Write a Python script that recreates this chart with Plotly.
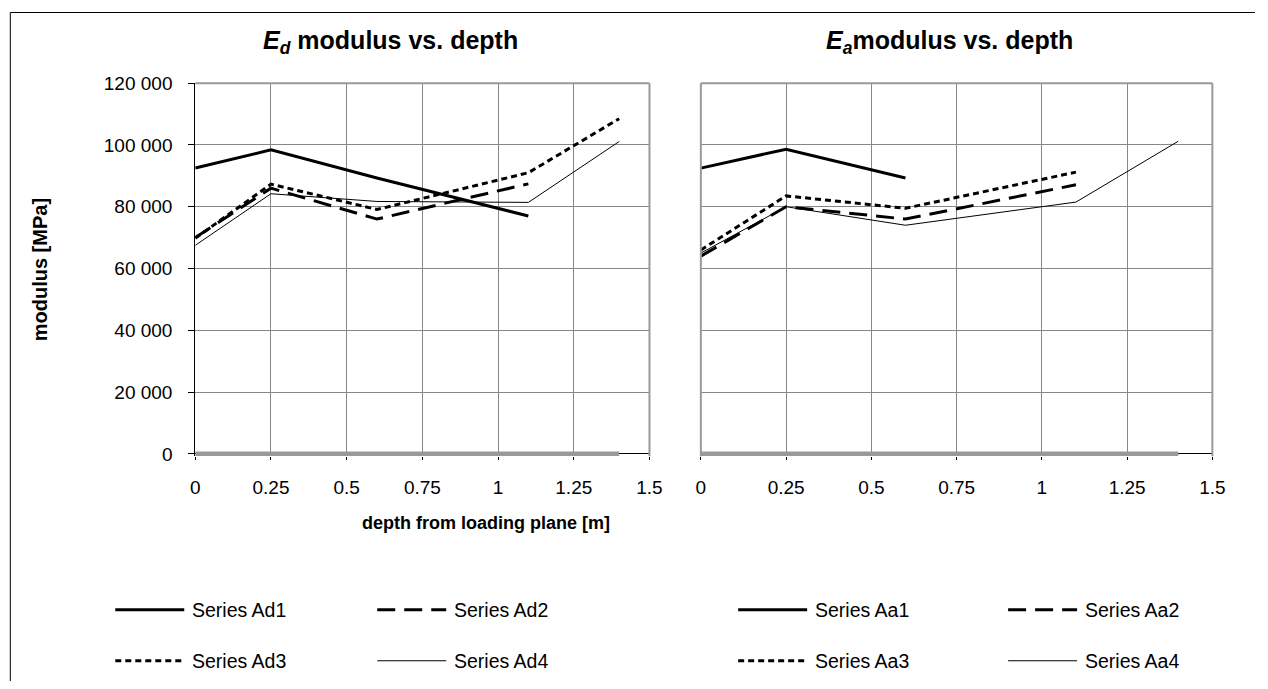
import plotly.graph_objects as go

# ---------------- data ----------------
depth = [0, 0.25, 0.6, 1.1, 1.4]

ad1 = [92500, 98400, 89300, 77000]
ad2 = [70000, 86000, 76000, 87400]
ad3 = [69800, 87300, 79100, 91000, 108500]
ad4 = [67500, 84200, 81700, 81400, 101100]

aa1 = [92500, 98600, 89300]
aa2 = [64000, 80000, 76000, 87100]
aa3 = [66000, 83500, 79500, 91200]
aa4 = [65000, 80000, 74000, 81500, 101200]

zero_x = [0, 1.4]
zero_y = [0, 0]

names_d = ["Series Ad1", "Series Ad2", "Series Ad3", "Series Ad4"]
names_a = ["Series Aa1", "Series Aa2", "Series Aa3", "Series Aa4"]

x_ticks = [0, 0.25, 0.5, 0.75, 1, 1.25, 1.5]
x_labels = ["0", "0.25", "0.5", "0.75", "1", "1.25", "1.5"]
y_ticks = [0, 20000, 40000, 60000, 80000, 100000, 120000]
y_labels = ["0", "20 000", "40 000", "60 000", "80 000", "100 000", "120 000"]
y_max = 120000

title_d = "<b><i>E</i><sub><i>d</i></sub> modulus vs. depth</b>"
title_a = "<b><i>E</i><sub><i>a</i></sub>modulus vs. depth</b>"
y_title = "<b>modulus [MPa]</b>"
x_title = "<b>depth from loading plane [m]</b>"

# ---------------- geometry ----------------
W, H = 1268, 689
# observed mapping of figure pixels onto the final picture
SX, OX = 0.986, 4.7
SY, OY = 0.972, 8.5
FONT = "Liberation Sans, Arial, sans-serif"


def fx(x):
    return (x - OX) / SX


def fy(y):
    return (y - OY) / SY


def px(x):
    return fx(x) / W


def py(y):
    return 1 - fy(y) / H


# plot-area targets (picture px)
TOP, ZERO = 81.5, 451.5
L0, L1 = 195, 649.3
R0, R1 = 700.7, 1212.3
PAD = 2.5  # room below zero so the thick gray zero line is not clipped
unit_per_px = y_max / (fy(ZERO) - fy(TOP))
y_low = -PAD / SY * unit_per_px

styles = [
    dict(color="black", width=3, dash="solid"),
    dict(color="black", width=3, dash="18px,9px"),
    dict(color="black", width=3, dash="6px,4px"),
    dict(color="black", width=1, dash="solid"),
]

fig = go.Figure()

series_d = [ad1, ad2, ad3, ad4]
series_a = [aa1, aa2, aa3, aa4]

for xa, ya in (("x", "y"), ("x2", "y2")):
    fig.add_trace(go.Scatter(x=zero_x, y=zero_y, mode="lines", xaxis=xa, yaxis=ya,
                             line=dict(color="#999999", width=4.5), showlegend=False,
                             hoverinfo="skip"))

for vals, name, st in zip(series_d, names_d, styles):
    fig.add_trace(go.Scatter(x=depth[:len(vals)], y=vals, mode="lines", name=name,
                             xaxis="x", yaxis="y", line=st, showlegend=False))
for vals, name, st in zip(series_a, names_a, styles):
    fig.add_trace(go.Scatter(x=depth[:len(vals)], y=vals, mode="lines", name=name,
                             xaxis="x2", yaxis="y2", line=st, showlegend=False))

ydom = [py(ZERO + PAD), py(TOP)]
grid = "#878787"
common_x = dict(range=[0, 1.5], tickvals=x_ticks, ticktext=x_labels, showgrid=True,
                gridcolor=grid, gridwidth=1, zeroline=False, showline=False,
                ticks="outside", ticklen=3, tickcolor="black", layer="below traces",
                ticklabelstandoff=11,
                tickfont=dict(family=FONT, size=19, color="black"), fixedrange=True)
common_y = dict(range=[y_low, y_max], tickvals=y_ticks, ticktext=y_labels, showgrid=True,
                gridcolor=grid, gridwidth=1, zeroline=True, zerolinecolor="black",
                zerolinewidth=1, domain=ydom,
                tickfont=dict(family=FONT, size=19, color="black"), fixedrange=True,
                layer="below traces")

fig.update_layout(
    width=W, height=H, margin=dict(l=0, r=0, t=0, b=0),
    paper_bgcolor="white", plot_bgcolor="white",
    showlegend=False,
    xaxis=dict(domain=[px(L0), px(L1)], anchor="y", **common_x),
    xaxis2=dict(domain=[px(R0), px(R1)], anchor="y2", **common_x),
    yaxis=dict(anchor="x", showline=True, linecolor="black", linewidth=1,
               ticks="outside", ticklen=6, tickcolor="black", ticklabelstandoff=12,
               **common_y),
    yaxis2=dict(anchor="x2", showline=False, showticklabels=False, ticks="",
                **common_y),
)

shapes = []
border = dict(color="#999999", width=2)
# gray plot-area borders
for xr, yr, left in (("x domain", "y domain", False), ("x2 domain", "y2 domain", True)):
    shapes.append(dict(type="line", xref=xr, yref=yr, x0=0, x1=1, y0=1, y1=1, line=border))
    shapes.append(dict(type="line", xref=xr, yref=yr, x0=1, x1=1, y0=0, y1=1, line=border))
    if left:
        shapes.append(dict(type="line", xref=xr, yref=yr, x0=0, x1=0, y0=0, y1=1, line=border))

# chart-area frame
frame = dict(color="black", width=1)
shapes.append(dict(type="line", xref="paper", yref="paper", x0=px(10), x1=1,
                   y0=py(11), y1=py(11), line=frame))
shapes.append(dict(type="line", xref="paper", yref="paper", x0=px(10), x1=px(10),
                   y0=py(11), y1=0, line=frame))

annotations = [
    dict(text=title_d, x=px(390), y=py(40), xref="paper", yref="paper",
         showarrow=False, xanchor="center", yanchor="middle",
         font=dict(family=FONT, size=25, color="black")),
    dict(text=title_a, x=px(949), y=py(40), xref="paper", yref="paper",
         showarrow=False, xanchor="center", yanchor="middle",
         font=dict(family=FONT, size=25, color="black")),
    dict(text=y_title, x=px(40), y=py(268), xref="paper", yref="paper",
         showarrow=False, xanchor="center", yanchor="middle", textangle=-90,
         font=dict(family=FONT, size=20, color="black")),
    dict(text=x_title, x=px(485.5), y=py(521), xref="paper", yref="paper",
         showarrow=False, xanchor="center", yanchor="middle",
         font=dict(family=FONT, size=18, color="black")),
]

# manual legends (long line samples)
legend_slots = [(115, 607), (377, 607), (115, 658), (377, 658)]
legend_slots_a = [(738, 607), (1008, 607), (738, 658), (1008, 658)]
for names, slots in ((names_d, legend_slots), (names_a, legend_slots_a)):
    for name, st, (lx, ly) in zip(names, styles, slots):
        shapes.append(dict(type="line", xref="paper", yref="paper",
                           x0=px(lx), x1=px(lx + 69), y0=py(ly), y1=py(ly),
                           line=dict(color=st["color"], width=st["width"], dash=st["dash"])))
        annotations.append(dict(text=name, x=px(lx + 75), y=py(ly), xref="paper",
                                yref="paper", showarrow=False, xanchor="left",
                                yanchor="middle",
                                font=dict(family=FONT, size=19.5, color="black")))

fig.update_layout(shapes=shapes, annotations=annotations)
fig.write_html("out.html")
